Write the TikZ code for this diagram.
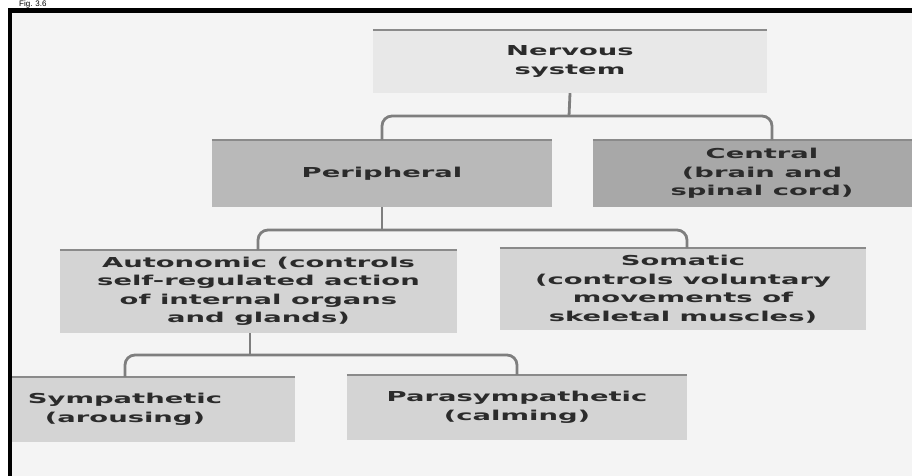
\documentclass[tikz,border=0pt]{standalone}
\usepackage{fontspec}
\newfontfamily\lblfont{DejaVu Sans Bold}[FakeStretch=2.0]
\newfontfamily\figfont{Liberation Sans}
\usetikzlibrary{calc}
\definecolor{bgin}{HTML}{F4F4F4}
\definecolor{lightbox}{HTML}{E8E8E8}
\definecolor{midbox}{HTML}{D4D4D4}
\definecolor{perbox}{HTML}{B9B9B9}
\definecolor{cenbox}{HTML}{A8A8A8}
\definecolor{edge}{HTML}{8A8A8A}
\definecolor{connc}{HTML}{7E7E7E}
\definecolor{txt}{HTML}{2B2B2B}
\tikzset{
  box/.style={rectangle, inner sep=0pt, align=center, text=txt,
    font=\lblfont\fontsize{13.7}{18.5}\selectfont},
  topedge/.style={draw=edge, line width=2.2pt},
  conn/.style={draw=connc, line width=2.8pt, rounded corners=10pt},
}
\begin{document}
\begin{tikzpicture}[x=1pt,y=-1pt]
\useasboundingbox (0,0) rectangle (912,476);
\fill[white] (0,0) rectangle (912,476);
\node[anchor=base west, font=\figfont\fontsize{8}{8}\selectfont, text=black, inner sep=0pt] (fig) at (19,7) {Fig. 3.6};
\begin{scope}
\clip (10,10) rectangle (912,476);
\fill[bgin] (10,10) rectangle (912,476);
% boxes
\node[box, fill=lightbox, minimum width=394pt, minimum height=63pt] (ns) at (570,61.5) {Nervous\\system};
\node[box, fill=perbox, minimum width=340pt, minimum height=67pt] (per) at (382,173.5) {Peripheral};
\node[box, fill=cenbox, minimum width=338pt, minimum height=67pt] (cen) at (762,173.5) {Central\\(brain and\\spinal cord)};
\node[box, fill=midbox, minimum width=397pt, minimum height=83pt] (aut) at (258.5,291.5) {Autonomic (controls\\self-regulated action\\of internal organs\\and glands)};
\node[box, fill=midbox, minimum width=366pt, minimum height=82pt] (som) at (683,289) {Somatic\\(controls voluntary\\movements of\\skeletal muscles)};
\node[box, fill=midbox, minimum width=340pt, minimum height=65pt] (sym) at (125,409.5) {Sympathetic\\(arousing)};
\node[box, fill=midbox, minimum width=340pt, minimum height=65pt] (par) at (517,407.5) {Parasympathetic\\(calming)};
\foreach \n in {ns,per,cen,aut,som,sym,par}
  \draw[topedge] (\n.north west) -- (\n.north east);
% connector points
\coordinate (cenin) at (772,140);
\coordinate (autin) at (258,250);
\coordinate (somin) at (687,248);
\coordinate (autout) at (250,333);
\coordinate (j1) at (569,116);
\coordinate (j2) at (382,230);
\coordinate (j3) at (250,355);
% connectors
\draw[conn] (ns.south) -- (j1);
\draw[conn] (per.north) |- (j1) -| (cenin);
\draw[conn] (per.south) -- (j2);
\draw[conn] (autin) |- (j2) -| (somin);
\draw[conn] (autout) -- (j3);
\draw[conn] (sym.north) |- (j3) -| (par.north);
\end{scope}
% frame
\draw[black, line width=4.5pt] (10,476) -- (10,10.5) -- (912,10.5);
\end{tikzpicture}
\end{document}
